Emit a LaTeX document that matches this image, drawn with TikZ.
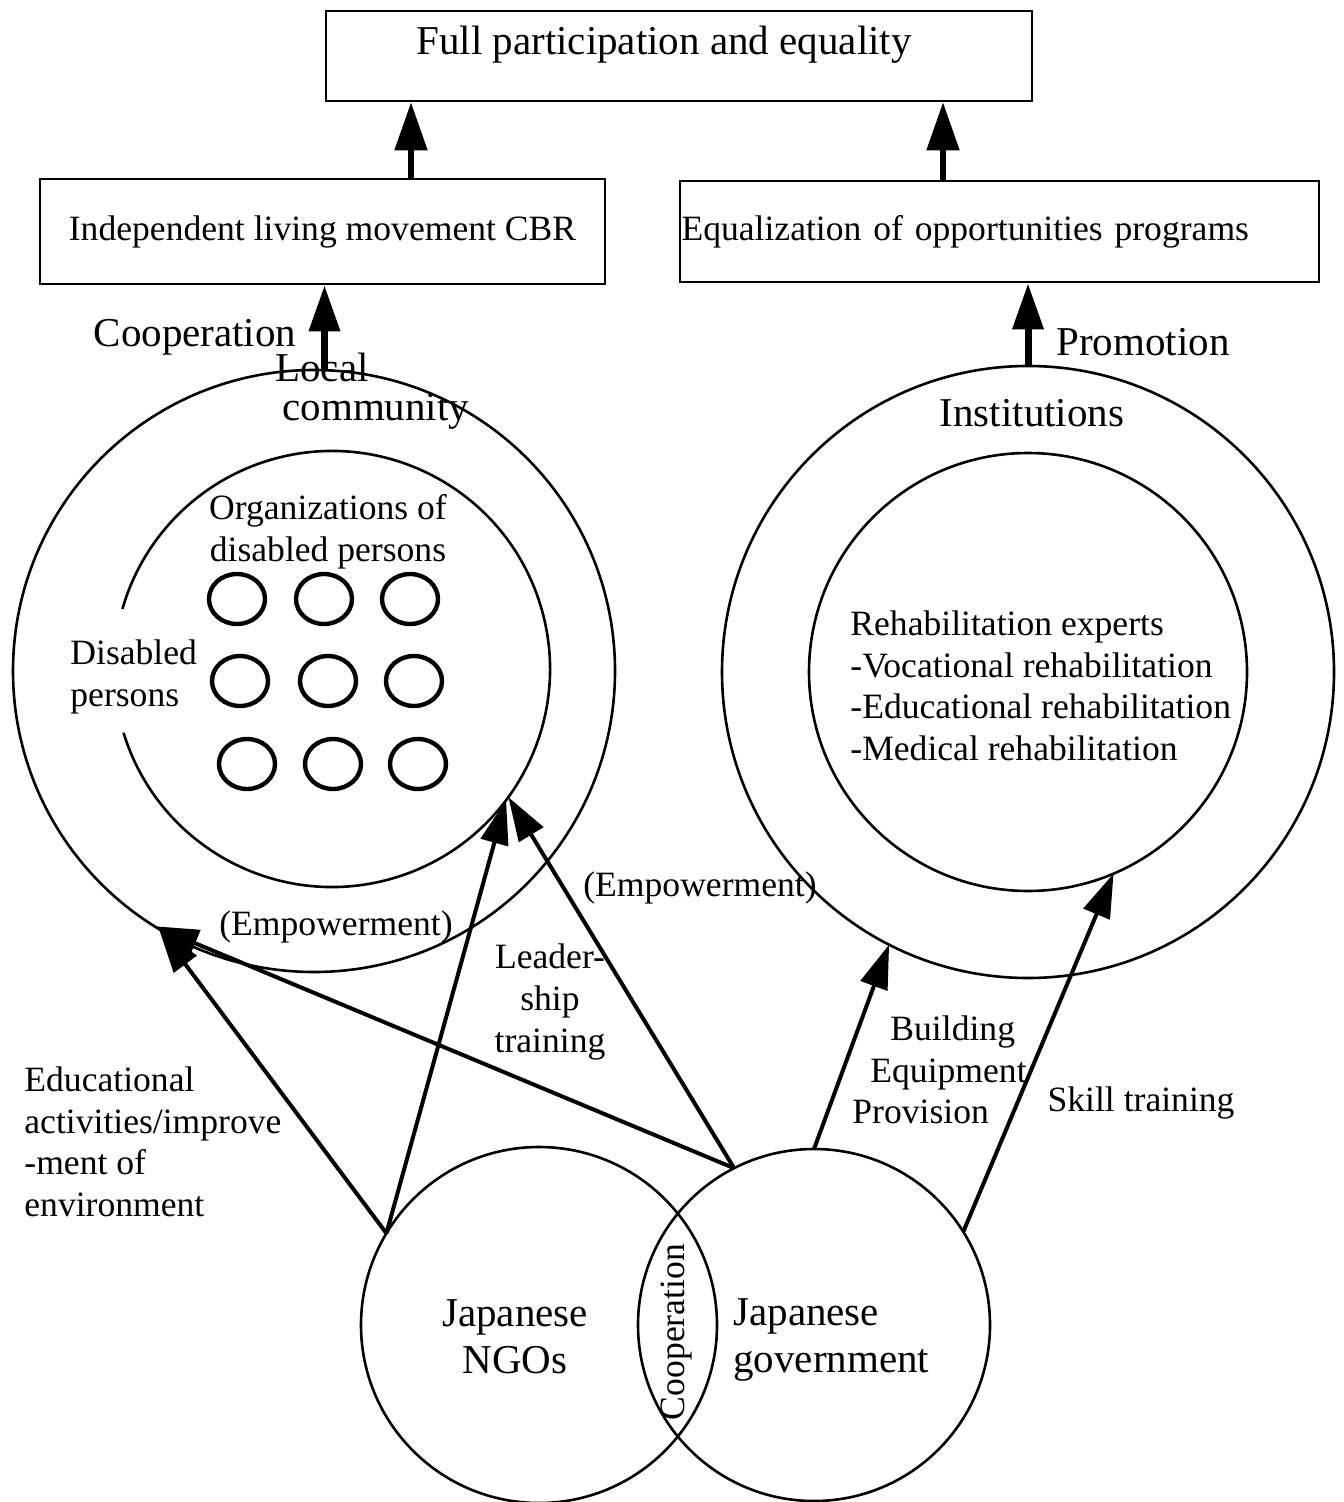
\documentclass[tikz,border=0pt]{standalone}
\usepackage{fontspec}
\setmainfont{Liberation Serif}
\usetikzlibrary{arrows.meta,shapes.geometric}

\begin{document}
\begin{tikzpicture}[x=0.5pt,y=-0.5pt,
  txt/.style={font=\fontsize{17.8}{20.8}\selectfont, inner sep=0pt},
  bigtxt/.style={font=\fontsize{20.5}{23.5}\selectfont, inner sep=0pt},
  box/.style={draw, line width=1.4pt, inner sep=0pt},
  ring/.style={circle, draw, line width=1.3pt, inner sep=0pt, outer sep=0pt},
  member/.style={ellipse, draw, line width=2.2pt, minimum width=28pt, minimum height=25pt, inner sep=0pt},
  uparrow/.style={line width=2.6pt, -{Triangle[length=24pt,width=16pt]}},
  thickarrow/.style={line width=3.5pt, -{Triangle[length=23pt,width=15pt]}},
  thinarrow/.style={line width=2pt, -{Triangle[length=22pt,width=14pt]}},
]
\useasboundingbox (0,0) rectangle (1343,1502);
\fill[white] (0,0) rectangle (1343,1502);

% goal and the two programme boxes
\node[box, minimum width=353pt, minimum height=45pt] (top) at (679,56) {};
\node[bigtxt] (toptxt) at (664,45) {Full participation and equality};
\node[box, txt, minimum width=282.5pt, minimum height=52.5pt] (lbox) at (322.5,231.5) {Independent living movement CBR};
\node[box, txt, minimum height=50.5pt, text width=318pt, inner xsep=0.75pt, align=left] (rbox) at (999.5,231.5) {Equalization of opportunities programs};

% local community side
\node[ring, minimum size=301pt] (lout) at (314,671) {};
\node[circle, inner sep=0pt, outer sep=0pt, minimum size=218pt] (lin) at (332,669) {};
\draw[line width=1.3pt] (lin.-163) arc[start angle=-163, end angle=164, radius=109pt];
\foreach \row/\y/\xa/\xb/\xc in {1/599/237/324/410, 2/681/240/328/414, 3/764/247/333/418} {
  \node[member] (o\row a) at (\xa,\y) {};
  \node[member] (o\row b) at (\xb,\y) {};
  \node[member] (o\row c) at (\xc,\y) {};
}

% institutions side
\node[ring, minimum size=306pt] (rout) at (1028,672) {};
\node[ring, minimum size=219pt] (rin) at (1028,672) {};

% Japanese actors
\node[ring, minimum size=178pt] (ngo) at (539,1325) {};
\node[ring, minimum size=176pt] (gov) at (814,1325) {};

% connectors
\draw[uparrow] ([xshift=44.25pt]lbox.north) -- ([xshift=44.25pt]lbox.north |- top.south);
\draw[uparrow] ([xshift=-28.25pt]rbox.north) -- ([xshift=-28.25pt]rbox.north |- top.south);
\draw[thickarrow] (lout.88.1) -- (lout.88.1 |- lbox.south);
\draw[thickarrow] (rout.north) -- (rout.north |- rbox.south);
\draw[thinarrow] (ngo.149) -- (lout.239);
\draw[thinarrow] (ngo.149) -- (lin.-37);
\draw[thinarrow] (gov.117) -- (lout.238);
\draw[thinarrow] (gov.117) -- (lin.-36);
\draw[thinarrow] (gov.90) -- (rout.243);
\draw[thinarrow] (gov.32) -- (rin.-67);

% labels
\node[bigtxt] (coopl) at (195,337) {Cooperation};
\node[bigtxt] (promo) at (1143,342) {Promotion};
\node[bigtxt, anchor=base west] (local) at (275,382) {Local};
\node[bigtxt, anchor=base west] (comm) at (282,421) {community};
\node[txt, align=center] (orgs) at (328,532) {Organizations of\\disabled persons};
\node[txt, align=left, anchor=west] (dis) at (70,677) {Disabled\\persons};
\node[bigtxt] (inst) at (1032,413) {Institutions};
\node[txt, align=left, anchor=west] (rehab) at (850,686) {Rehabilitation experts\\-Vocational rehabilitation\\-Educational rehabilitation\\-Medical rehabilitation};
\node[txt] (emp1) at (336,927) {(Empowerment)};
\node[txt] (emp2) at (700,888) {(Empowerment)};
\node[txt, align=center] (lead) at (550,1002) {Leader-\\ship\\training};
\node[txt, align=left, anchor=west] (build) at (852,1070) {\hspace*{19pt}Building\\\hspace*{9pt}Equipment\\Provision};
\node[txt] (skill) at (1141,1103) {Skill training};
\node[txt, align=left, anchor=west] (edu) at (24,1142) {Educational\\activities/improve\\-ment of\\environment};
\node[bigtxt, align=center] (ngotxt) at (515,1337) {Japanese\\NGOs};
\node[bigtxt, align=left, anchor=west] (govtxt) at (733,1340) {Japanese\\government};
\node[txt, rotate=90] (coopb) at (676,1332) {Cooperation};
\end{tikzpicture}
\end{document}
